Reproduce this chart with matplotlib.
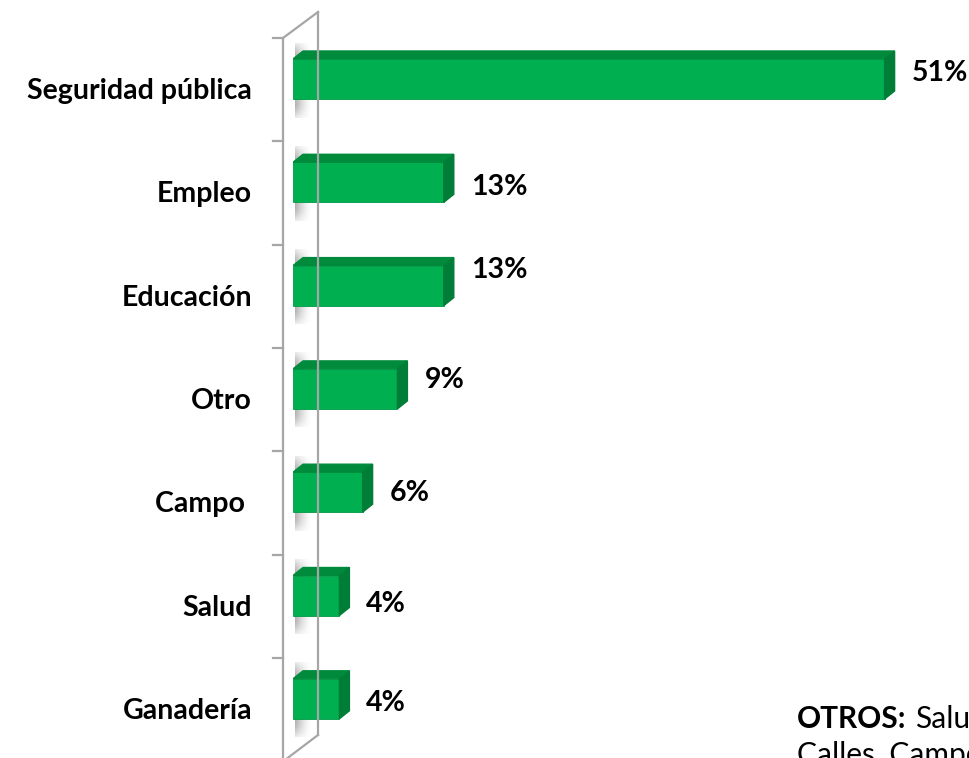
import numpy as np
import matplotlib.pyplot as plt
from matplotlib.patches import Polygon

categorias = ['Seguridad pública', 'Empleo', 'Educación', 'Otro', 'Campo ', 'Salud', 'Ganadería']
valores = [51, 13, 13, 9, 6, 4, 4]
etiquetas = ['51%', '13%', '13%', '9%', '6%', '4%', '4%']

# figure geometry (pixels)
W, H = 969, 758
x0_px = 293          # where 0% sits
px_por_pct = 11.6
slot_px = 103.3
centro0_px = 90

plt.rcParams['font.family'] = ['Lato', 'DejaVu Sans']
fs = 20.5

fig = plt.figure(figsize=(W / 100, H / 100), dpi=100)
ax = fig.add_axes([x0_px / W, 0, 1 - x0_px / W, 1])
xmax = (W - x0_px) / px_por_pct
ymin, ymax = (H - centro0_px) / slot_px, -centro0_px / slot_px
ax.set_xlim(0, xmax)
ax.set_ylim(ymin, ymax)
ax.axis('off')

verde = '#00B050'
verde_top = '#008A3C'
verde_lado = '#007D36'
dx = 10 / px_por_pct
dy = 8 / slot_px
alto = 40 / slot_px
off = -11 / slot_px

y = np.arange(len(categorias)) + off

# soft shadow of the bars on the back wall (gradient strip)
gx = np.linspace(0, 1, 20)
gy = np.linspace(-1, 1, 40)
GX, GY = np.meshgrid(gx, gy)
a = (0.55 * (1 - GX) ** 1.5) * np.clip(1.3 - np.abs(GY) ** 3, 0, 1)
sombra = np.zeros((40, 20, 4))
sombra[..., :3] = 0.45
sombra[..., 3] = a
for yi in y:
    ax.imshow(sombra, extent=(0.2, 1.6, yi + alto / 2 + 0.18, yi - alto / 2 - dy - 0.08),
              aspect='auto', interpolation='bilinear', zorder=1)
ax.set_xlim(0, xmax)
ax.set_ylim(ymin, ymax)

ax.barh(y, valores, height=alto, color=verde, edgecolor='#009A45', linewidth=0.6, zorder=3)
for yi, v in zip(y, valores):
    top = [(0, yi - alto / 2), (v, yi - alto / 2), (v + dx, yi - alto / 2 - dy), (dx, yi - alto / 2 - dy)]
    lado = [(v, yi - alto / 2), (v + dx, yi - alto / 2 - dy), (v + dx, yi + alto / 2 - dy), (v, yi + alto / 2)]
    ax.add_patch(Polygon(top, closed=True, color=verde_top, zorder=3))
    ax.add_patch(Polygon(lado, closed=True, color=verde_lado, zorder=3))

# value labels
ajuste_y = [-0.16, -0.06, -0.26, -0.19, -0.10, -0.02, -0.07]
for i, (v, t) in enumerate(zip(valores, etiquetas)):
    ax.text(v + dx + 17 / px_por_pct, i + ajuste_y[i], t, fontsize=fs, fontweight='bold',
            va='center', ha='left', color='black', zorder=4)

# wall (drawn in figure pixels)
def fx(px):
    return px / W

def fy(py):
    return 1 - py / H

gris = '#A6A6A6'
lw = 1.6
fig.add_artist(plt.Line2D([fx(283), fx(283)], [fy(38), fy(760)], color=gris, lw=lw))
fig.add_artist(plt.Line2D([fx(318), fx(318)], [fy(12), fy(735)], color=gris, lw=lw))
fig.add_artist(plt.Line2D([fx(283), fx(318)], [fy(38), fy(12)], color=gris, lw=lw))
fig.add_artist(plt.Line2D([fx(285), fx(318)], [fy(760), fy(735)], color=gris, lw=lw))
for k in range(7):
    ty = 38 + k * slot_px
    fig.add_artist(plt.Line2D([fx(273), fx(283)], [fy(ty), fy(ty)], color=gris, lw=lw))

# category labels
for i, c in enumerate(categorias):
    fig.text(fx(252), fy(centro0_px + 1 + i * slot_px), c, fontsize=fs, fontweight='bold',
             ha='right', va='center', color='black')

# note at bottom right (runs off the edge, as in the original)
t1 = fig.text(fx(797), fy(719), 'OTROS:', fontsize=21.5, fontweight='bold', ha='left', va='center')
fig.canvas.draw()
bb = t1.get_window_extent()
fig.text(bb.x1 / W + fx(9), fy(719), 'Salud,', fontsize=21.5, ha='left', va='center')
fig.text(fx(797), fy(755), 'Calles, Campo', fontsize=21.5, ha='left', va='center')

fig.savefig('out.png', dpi=100)
